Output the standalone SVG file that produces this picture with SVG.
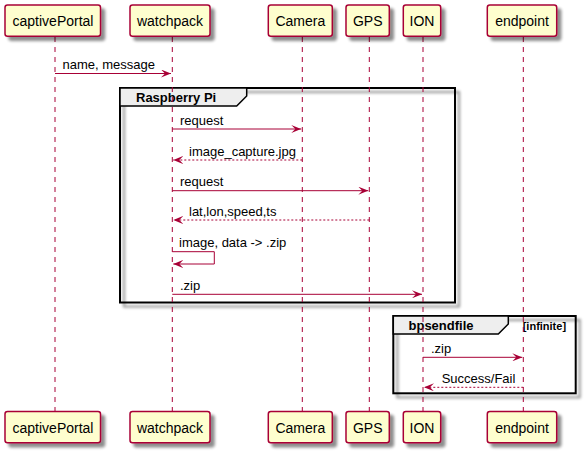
<svg xmlns="http://www.w3.org/2000/svg" width="587" height="456" viewBox="0 0 587 456">
<defs>
<filter id="sh" x="-10%" y="-10%" width="130%" height="140%">
<feGaussianBlur in="SourceAlpha" stdDeviation="1.8" result="b"/>
<feOffset in="b" dx="4" dy="4" result="o"/>
<feComponentTransfer in="o" result="c"><feFuncA type="linear" slope="0.45"/></feComponentTransfer>
<feMerge><feMergeNode in="c"/><feMergeNode in="SourceGraphic"/></feMerge>
</filter>
<marker id="ah" viewBox="0 0 10 8" refX="10" refY="4" markerWidth="10" markerHeight="8" markerUnits="userSpaceOnUse" orient="auto">
<polygon points="0,0 10,4 0,8 4,4" fill="#A80036"/>
</marker>
</defs>
<style>
.box{fill:#FEFECE;stroke:#A80036;stroke-width:1.5;filter:url(#sh)}
.pt{font-family:"Liberation Sans",Arial,sans-serif;font-size:14px;fill:#000;text-anchor:middle}
.life{stroke:#A80036;stroke-width:1;stroke-dasharray:5,5}
.msg{stroke:#A80036;stroke-width:1;fill:none;marker-end:url(#ah)}
.ret{stroke:#A80036;stroke-width:1;fill:none;stroke-dasharray:2,2;marker-end:url(#ah)}
.mt{font-family:"Liberation Sans",Arial,sans-serif;font-size:13px;fill:#000}
.frame{fill:none;stroke:#000;stroke-width:2;filter:url(#sh)}
.tab{fill:#EEEEEE;stroke:#000;stroke-width:1.5}
.gt{font-family:"Liberation Sans",Arial,sans-serif;font-size:13px;font-weight:bold;fill:#000}
.gc{font-family:"Liberation Sans",Arial,sans-serif;font-size:11px;font-weight:bold;fill:#000}
</style>
<rect width="587" height="456" fill="#FFFFFF"/>

<g id="frame-raspberry-pi">
<rect class="frame" x="120" y="88" width="335" height="214.5"/>
<polygon class="tab" points="120,88 246.7,88 246.7,96 236.7,106 120,106"/>
<text class="gt" x="136" y="102">Raspberry Pi</text>
</g>
<g id="frame-bpsendfile">
<rect class="frame" x="393.3" y="316" width="182.4" height="77.3"/>
<polygon class="tab" points="393.3,316 508.3,316 508.3,324 498.3,334 393.3,334"/>
<text class="gt" x="408.5" y="330">bpsendfile</text>
<text class="gc" x="522.7" y="329.5">[infinite]</text>
</g>

<g id="captivePortal">
<line class="life" x1="55" y1="37" x2="55" y2="411"/>
<rect class="box" x="5" y="5" width="95.5" height="31.3" rx="2.5"/>
<text class="pt" x="53" y="26">captivePortal</text>
<rect class="box" x="5" y="411.5" width="95.5" height="31.3" rx="2.5"/>
<text class="pt" x="53" y="432.5">captivePortal</text>
</g>
<g id="watchpack">
<line class="life" x1="172.3" y1="37" x2="172.3" y2="411"/>
<rect class="box" x="130" y="5" width="80" height="31.3" rx="2.5"/>
<text class="pt" x="170" y="26">watchpack</text>
<rect class="box" x="130" y="411.5" width="80" height="31.3" rx="2.5"/>
<text class="pt" x="170" y="432.5">watchpack</text>
</g>
<g id="Camera">
<line class="life" x1="302.3" y1="37" x2="302.3" y2="411"/>
<rect class="box" x="268.3" y="5" width="64" height="31.3" rx="2.5"/>
<text class="pt" x="300.3" y="26">Camera</text>
<rect class="box" x="268.3" y="411.5" width="64" height="31.3" rx="2.5"/>
<text class="pt" x="300.3" y="432.5">Camera</text>
</g>
<g id="GPS">
<line class="life" x1="369.3" y1="37" x2="369.3" y2="411"/>
<rect class="box" x="346" y="5" width="43.3" height="31.3" rx="2.5"/>
<text class="pt" x="367.7" y="26">GPS</text>
<rect class="box" x="346" y="411.5" width="43.3" height="31.3" rx="2.5"/>
<text class="pt" x="367.7" y="432.5">GPS</text>
</g>
<g id="ION">
<line class="life" x1="423" y1="37" x2="423" y2="411"/>
<rect class="box" x="403.3" y="5" width="37.4" height="31.3" rx="2.5"/>
<text class="pt" x="422" y="26">ION</text>
<rect class="box" x="403.3" y="411.5" width="37.4" height="31.3" rx="2.5"/>
<text class="pt" x="422" y="432.5">ION</text>
</g>
<g id="endpoint">
<line class="life" x1="523.3" y1="37" x2="523.3" y2="411"/>
<rect class="box" x="487.3" y="5" width="69.4" height="31.3" rx="2.5"/>
<text class="pt" x="522" y="26">endpoint</text>
<rect class="box" x="487.3" y="411.5" width="69.4" height="31.3" rx="2.5"/>
<text class="pt" x="522" y="432.5">endpoint</text>
</g>

<g id="connectors">
<line class="msg" x1="55" y1="73.5" x2="171" y2="73.5"/>
<text class="mt" x="62.5" y="68.5">name, message</text>
<line class="msg" x1="172.3" y1="129" x2="301.3" y2="129"/>
<text class="mt" x="180" y="124.5">request</text>
<line class="ret" x1="302.3" y1="160" x2="173.3" y2="160"/>
<text class="mt" x="189" y="155.5">image_capture.jpg</text>
<line class="msg" x1="172.3" y1="190.7" x2="368.3" y2="190.7"/>
<text class="mt" x="180" y="186">request</text>
<line class="ret" x1="369.3" y1="220" x2="173.3" y2="220"/>
<text class="mt" x="189" y="215.5">lat,lon,speed,ts</text>
<polyline class="msg" points="172.3,251.7 214.3,251.7 214.3,264 173.3,264"/>
<text class="mt" x="179" y="246.5">image, data -&gt; .zip</text>
<line class="msg" x1="172.3" y1="294.3" x2="422" y2="294.3"/>
<text class="mt" x="180" y="289.5">.zip</text>
<line class="msg" x1="423" y1="357.3" x2="522.3" y2="357.3"/>
<text class="mt" x="431" y="352.5">.zip</text>
<line class="ret" x1="523.3" y1="387.3" x2="424" y2="387.3"/>
<text class="mt" x="441.7" y="382.5">Success/Fail</text>
</g>
</svg>
